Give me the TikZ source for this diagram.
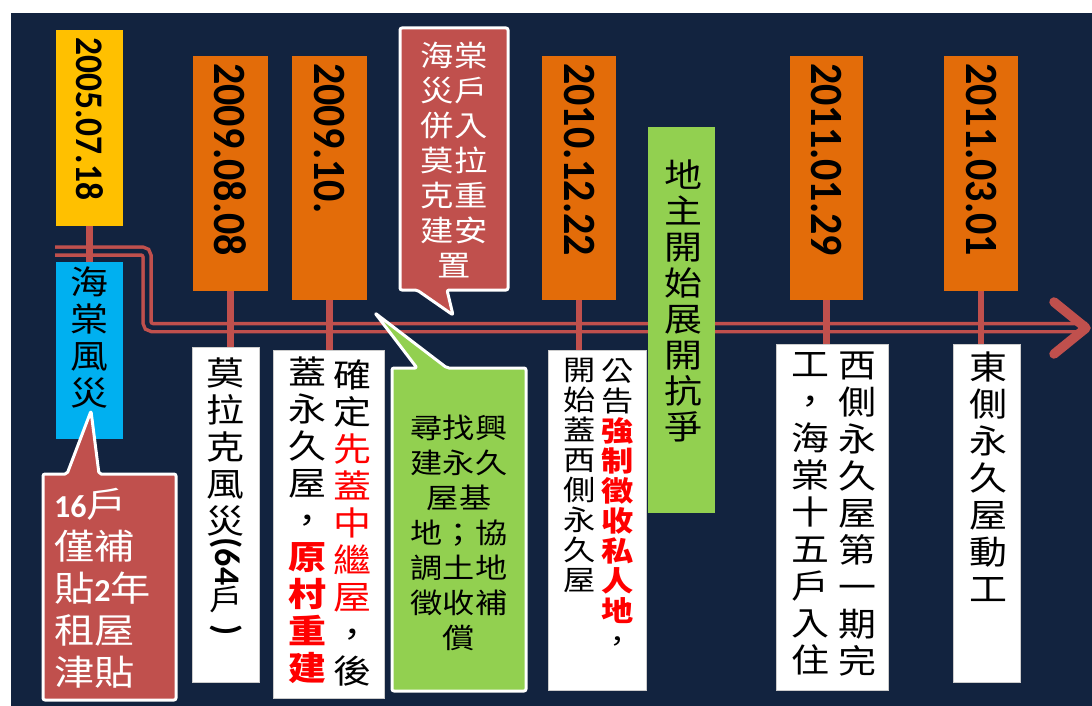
\documentclass[tikz,border=0pt]{standalone}
\usepackage{fontspec}
\usetikzlibrary{positioning}
\newfontfamily\cjk[FakeStretch=1.15]{Noto Sans CJK TC}
\newfontfamily\latin{Carlito}
\definecolor{bgnavy}{HTML}{12233F}
\definecolor{dateorange}{HTML}{E36C09}
\definecolor{dateyellow}{HTML}{FFC000}
\definecolor{stormblue}{HTML}{00B0F0}
\definecolor{leafgreen}{HTML}{92D050}
\definecolor{tlred}{HTML}{C0504D}
\newcommand{\fs}[2]{\fontsize{#1}{#2}\selectfont}
\newcommand{\rd}[1]{\textcolor{red}{#1}}
\newcommand{\rdb}[1]{\textcolor{red}{\bfseries #1}}

\begin{document}
\begin{tikzpicture}[x=1pt, y=-1pt,
	datebox/.style={anchor=north west, inner sep=0pt, fill=dateorange},
	textbox/.style={anchor=north west, inner sep=0pt, fill=white, draw=gray!40},
	datetext/.style={anchor=west, inner sep=0pt, rotate=-90, font=\latin\bfseries\fs{42}{42}},
	coltext/.style={inner sep=0pt, align=center, font=\cjk\fs{33}{37}},
	tick/.style={draw=tlred, line width=6.5pt},
	timeline/.style={draw=tlred, line width=3.5pt, double=bgnavy, double distance=4.5pt, rounded corners=5pt},
	callout/.style={draw=white, line width=3pt, line join=round, rounded corners=2pt}
	]
	\fill[white] (0,0) rectangle (1092,706);
	\useasboundingbox (0,0) rectangle (1092,706);
	\fill[bgnavy] (11,13) rectangle (1092,706);

	% time axis
	\draw[timeline] (55,251) -- (147,251) -- (147,327.5) -- (1087,327.5);
	\draw[tlred, line width=9.5pt, line cap=round, line join=round] (1054,302) -- (1086,328) -- (1054,354);

	% dates
	\node[datebox, fill=dateyellow, minimum width=67pt, minimum height=196pt] (d1) at (56,30) {};
	\node[datebox, minimum width=75pt, minimum height=235pt] (d2) at (193,56) {};
	\node[datebox, minimum width=75pt, minimum height=244pt] (d3) at (292,56) {};
	\node[datebox, minimum width=74pt, minimum height=244pt] (d4) at (542,56) {};
	\node[datebox, minimum width=73pt, minimum height=244pt] (d5) at (790,56) {};
	\node[datebox, minimum width=74pt, minimum height=235pt] (d6) at (944,56) {};
	\node[datetext, font=\latin\bfseries\fs{35.5}{36}] (d1txt) at ([yshift=-7pt]d1.north) {\scalebox{1}[1.1]{2005.07.18}};
	\node[datetext] (d2txt) at ([yshift=-7pt]d2.north) {\scalebox{1}[1.1]{2009.08.08}};
	\node[datetext] (d3txt) at ([yshift=-7pt]d3.north) {\scalebox{1}[1.1]{2009.10.}};
	\node[datetext] (d4txt) at ([yshift=-7pt]d4.north) {\scalebox{1}[1.1]{2010.12.22}};
	\node[datetext] (d5txt) at ([yshift=-7pt]d5.north) {\scalebox{1}[1.1]{2011.01.29}};
	\node[datetext] (d6txt) at ([yshift=-7pt]d6.north) {\scalebox{1}[1.1]{2011.03.01}};

	% events
	\node[textbox, fill=stormblue, draw=none, minimum width=67pt, minimum height=177pt] (t1) at (56,262) {};
	\node[textbox, minimum width=67pt, minimum height=335pt] (t2) at (192,347) {};
	\node[textbox, minimum width=111pt, minimum height=348pt] (t3) at (273,350) {};
	\node[textbox, minimum width=98pt, minimum height=340pt] (t4) at (548,350) {};
	\node[textbox, minimum width=112pt, minimum height=346pt] (t5) at (776,344) {};
	\node[textbox, minimum width=67pt, minimum height=338pt] (t6) at (953,344) {};
	\node[textbox, fill=leafgreen, draw=none, minimum width=67pt, minimum height=386pt] (g1) at (648,127) {};

	\foreach \d/\t in {d1/t1, d2/t2, d3/t3, d4/t4, d5/t5, d6/t6}
		\draw[tick] (\d.south) -- (\d.south |- \t.north);

	\node[coltext, below=5pt of t1.north] (t1txt) {海\\棠\\風\\災};
	\node[coltext, below=11pt of t2.north] (t2txt) {莫\\拉\\克\\風\\災\\\rotatebox[origin=c]{-90}{\latin\bfseries\fs{36}{36}(64}\\{\fs{29}{29}戶}\\[-7pt]\rotatebox[origin=c]{-90}{\latin\bfseries\fs{36}{36})}};
	\node[coltext, below=10pt of t3.north, xshift=23.5pt] (t3r) {確\\定\\\rd{先}\\\rd{蓋}\\\rd{中}\\\rd{繼}\\\rd{屋}\\，\\後};
	\node[coltext, below=7pt of t3.north, xshift=-21.5pt] (t3l) {蓋\\永\\久\\屋\\，\\\rdb{原}\\\rdb{村}\\\rdb{重}\\\rdb{建}};
	\node[coltext, font=\cjk\fs{28}{30}, below=8pt of t4.north, xshift=20pt] (t4r) {公\\告\\\rdb{強}\\\rdb{制}\\\rdb{徵}\\\rdb{收}\\\rdb{私}\\\rdb{人}\\\rdb{地}\\，};
	\node[coltext, font=\cjk\fs{28}{30}, below=8pt of t4.north, xshift=-18pt] (t4l) {開\\始\\蓋\\西\\側\\永\\久\\屋};
	\node[coltext, below=8pt of t5.north, xshift=25pt] (t5r) {西\\側\\永\\久\\屋\\第\\一\\期\\完};
	\node[coltext, below=8pt of t5.north, xshift=-22pt] (t5l) {工\\，\\海\\棠\\十\\五\\戶\\入\\住};
	\node[coltext, below=8pt of t6.north, xshift=1.5pt] (t6txt) {東\\側\\永\\久\\屋\\動\\工};
	\node[coltext, font=\cjk\fs{33}{36}, below=33pt of g1.north, xshift=1.5pt] (g1txt) {地\\主\\開\\始\\展\\開\\抗\\爭};

	% callouts
	\filldraw[callout, fill=tlred] (43,474) -- (67,474) -- (91,411) -- (99,474) -- (176,474) -- (176,700) -- (43,700) -- cycle;
	\node[anchor=west, inner sep=0pt, align=left, text=white, font=\cjk\fs{35}{42}] (r1txt) at (54,588)
		{{\latin\bfseries\fs{32}{32}16}戶\\僅補\\貼{\latin\bfseries\fs{32}{32}2}年\\租屋\\津貼};
	\filldraw[callout, fill=tlred] (400,28) -- (508,28) -- (508,290) -- (447,290) -- (453,315) -- (417,290) -- (400,290) -- cycle;
	\node[inner sep=0pt, align=center, text=white, font=\cjk\fs{29}{35}] (r2txt) at (454,160)
		{海棠\\災戶\\併入\\莫拉\\克重\\建安\\置};
	\filldraw[callout, fill=leafgreen] (392,368) -- (417,368) -- (375,313) -- (447,368) -- (526,368) -- (526,691) -- (392,691) -- cycle;
	\node[inner sep=0pt, align=center, font=\cjk\fs{28}{35}] (gtxt) at (459,533)
		{尋找興\\建永久\\屋基\\地；協\\調土地\\徵收補\\償};
\end{tikzpicture}
\end{document}
